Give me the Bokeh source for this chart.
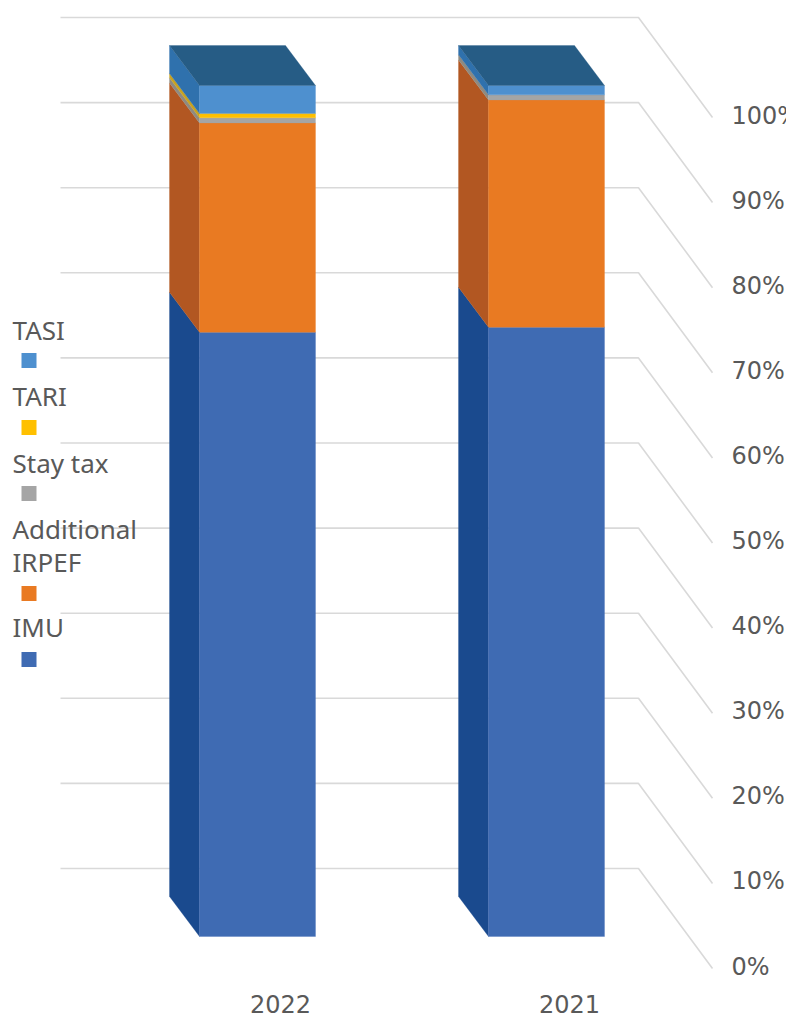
from bokeh.plotting import figure
from bokeh.models import Range1d
from bokeh.core.properties import value
from bokeh.embed import file_html
from bokeh.resources import INLINE

categories = ["2022", "2021"]
series = ["IMU", "Additional IRPEF", "Stay tax", "TARI", "TASI"]
imu = [71.0, 71.6]
irpef = [24.6, 26.7]
stay_tax = [0.6, 0.6]
tari = [0.5, 0.0]
tasi = [3.3, 1.1]
tick_labels = ["0%", "10%", "20%", "30%", "40%", "50%", "60%", "70%", "80%", "90%", "100%"]
tick_values = [0, 10, 20, 30, 40, 50, 60, 70, 80, 90, 100]

front_cols = ["#3F6BB3", "#E97A22", "#A5A5A5", "#FFC000", "#4E90CF"]
side_cols = ["#1A4A8E", "#B25722", "#8F8A80", "#C9A21E", "#2F71AD"]
top_col = "#265C85"
grid_col = "#D9D9D9"
text_col = "#595959"

W, H = 786, 1018
SCALE = 8.51
BASE = 936
def py(y):
    return (BASE - y) / SCALE

p = figure(width=W, height=H, output_backend="svg", toolbar_location=None,
           x_range=Range1d(0, W), y_range=Range1d(py(H), py(0)),
           x_axis_location=None, y_axis_location=None, min_border=0)
p.grid.visible = False
p.outline_line_color = None
p.background_fill_color = "white"

# back wall gridlines with the slanted side wall
wall = 68 / SCALE
slant = 100 / SCALE
for t in tick_values:
    y = t + wall
    p.line([60, 638, 712], [y, y, y - slant], line_color=grid_col, line_width=1.6)

p.text([731] * len(tick_values), [t + wall - slant + 2 / SCALE for t in tick_values], text=tick_labels,
       text_font=value("DejaVu Sans"), text_font_size="24px", text_color=text_col,
       text_baseline="middle", text_align="left")

# 3-D stacked bars
bar_left = [199, 488]
BAR_W = 116
DX = 30
DY = 40 / SCALE
stacks = [imu, irpef, stay_tax, tari, tasi]
for i, cat in enumerate(categories):
    x0 = bar_left[i]
    x1 = x0 + BAR_W
    b = 0.0
    for s, vals in enumerate(stacks):
        t = b + vals[i]
        if vals[i] > 0:
            p.patch([x0 - DX, x0, x0, x0 - DX], [b + DY, b, t, t + DY],
                    fill_color=side_cols[s], line_color=side_cols[s], line_width=0.3)
            p.patch([x0, x1, x1, x0], [b, b, t, t],
                    fill_color=front_cols[s], line_color=front_cols[s], line_width=0.3)
        b = t
    p.patch([x0 - DX, x1 - DX, x1, x0], [b + DY, b + DY, b, b],
            fill_color=top_col, line_color=top_col, line_width=0.3)

p.text([x + BAR_W / 2 + 23 for x in bar_left], [py(1003)] * 2, text=categories,
       text_font=value("DejaVu Sans"), text_font_size="24px", text_color=text_col,
       text_baseline="middle", text_align="center")

# legend
legend_lines = [("TASI", 329), ("TARI", 395), ("Stay tax", 462), ("Additional", 528), ("IRPEF", 561), ("IMU", 626)]
p.text([12] * len(legend_lines), [py(y) for _, y in legend_lines], text=[t for t, _ in legend_lines],
       text_font=value("Noto Sans"), text_font_size="26px", text_color=text_col,
       text_baseline="middle", text_align="left")
swatch_y = [659, 593, 493, 427, 360]
p.rect([28.5] * 5, [py(y) for y in swatch_y], width=15, height=15 / SCALE,
       fill_color=front_cols, line_color=None)

open("out.html", "w").write(file_html(p, INLINE))
